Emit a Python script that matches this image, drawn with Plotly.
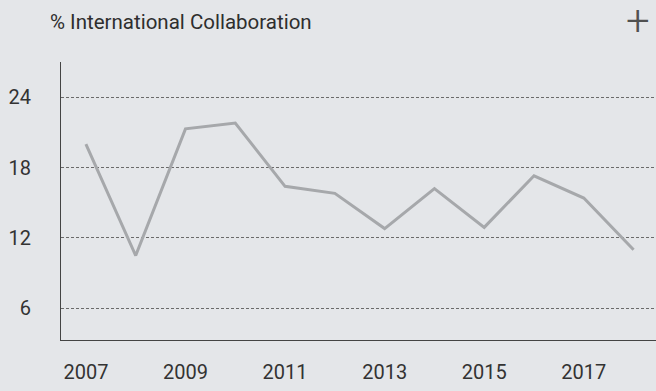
import plotly.graph_objects as go

years = [2007, 2008, 2009, 2010, 2011, 2012, 2013, 2014, 2015, 2016, 2017, 2018]
collab_pct = [20.0, 10.5, 21.3, 21.8, 16.4, 15.8, 12.8, 16.2, 12.9, 17.3, 15.4, 11.0]
y_ticks = [6, 12, 18, 24]
x_ticks = [2007, 2009, 2011, 2013, 2015, 2017]
title_text = "% International Collaboration"

bg = "#e4e6e9"
fig = go.Figure()
fig.add_trace(go.Scatter(
    x=years, y=collab_pct, mode="lines",
    line=dict(color="#a6a8ab", width=3),
    hoverinfo="x+y",
))

fig.update_layout(
    width=656, height=391,
    paper_bgcolor=bg, plot_bgcolor=bg,
    margin=dict(l=61, r=0, t=62, b=51),
    showlegend=False,
    font=dict(family="Roboto", color="#333333", size=20),
    annotations=[
        dict(text=title_text, xref="paper", yref="paper", x=-0.022, y=1.0,
             xanchor="left", yanchor="bottom", yshift=26, showarrow=False,
             font=dict(size=20.5, color="#2e2e2e", family="Roboto")),
        dict(text="+", xref="paper", yref="paper", x=1.0, y=1.0,
             xanchor="right", yanchor="middle", yshift=42, xshift=-4, showarrow=False,
             font=dict(size=42, color="#505050", family="Roboto", weight=300)),
    ],
)
fig.update_xaxes(
    range=[2006.5, 2018.45], tickvals=x_ticks,
    showgrid=False, zeroline=False,
    showline=True, linecolor="#444444", linewidth=1,
    ticks="", ticklabelstandoff=14,
    tickfont=dict(size=20, color="#333333"),
)
fig.update_yaxes(
    range=[3.3, 27.0], tickvals=y_ticks,
    showgrid=True, gridcolor="#6a6a6a", gridwidth=1, griddash="3px,2px",
    zeroline=False,
    showline=True, linecolor="#444444", linewidth=1,
    ticks="", ticklabelstandoff=25,
    tickfont=dict(size=20, color="#333333"),
)
fig.write_html("out.html", config={"displayModeBar": False},
               post_script="document.body.style.margin='0';document.body.style.overflow='hidden';")
